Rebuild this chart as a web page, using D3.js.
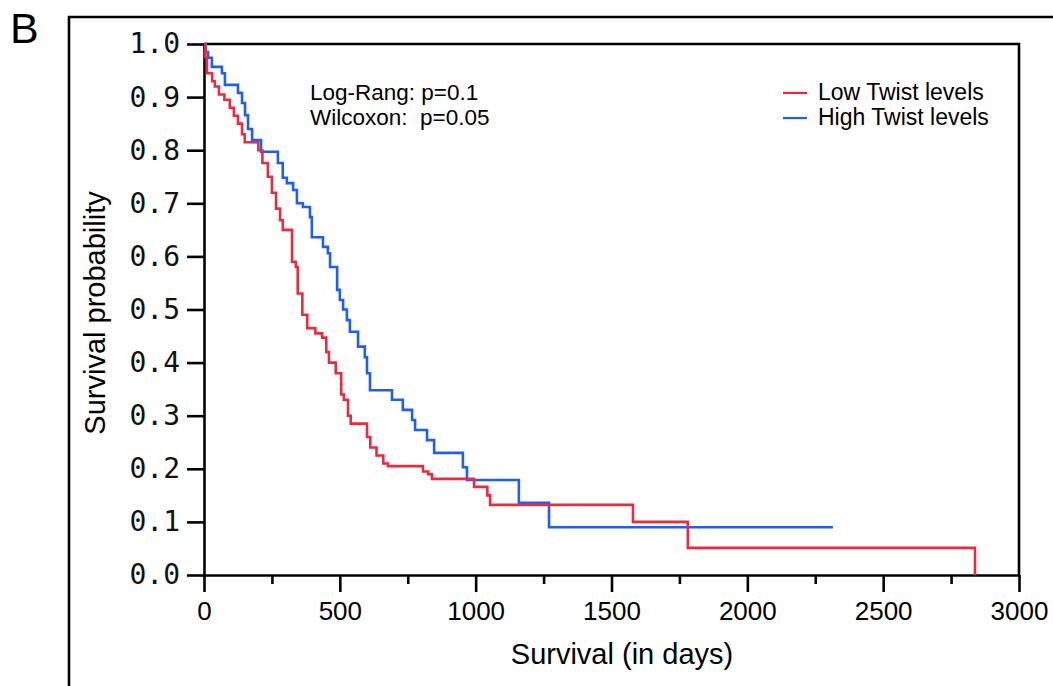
<!DOCTYPE html>
<html>
<head>
<meta charset="utf-8">
<script src="https://cdn.jsdelivr.net/npm/d3@7"></script>
<style>
  body { margin: 0; background: #fff; }
  svg { display: block; }
</style>
</head>
<body>
<div id="km_plot"></div>
<script>
// Kaplan-Meier steps (time in days, survival after that time)
const lowTimes = [0, 5, 11, 30, 40, 55, 75, 95, 110, 125, 140, 150, 200, 215, 235, 250, 265, 280, 290, 324,
  338, 345, 362, 380, 410, 435, 450, 460, 485, 505, 515, 530, 540, 600, 612, 635, 660, 677, 806, 825,
  839, 994, 1043, 1053, 1579, 1781, 2838];
const lowSurv = [1.0, 0.975, 0.945, 0.93, 0.92, 0.905, 0.895, 0.88, 0.865, 0.85, 0.83, 0.815, 0.8, 0.776, 0.75, 0.72, 0.69, 0.668, 0.65, 0.59,
  0.58, 0.53, 0.49, 0.465, 0.455, 0.447, 0.42, 0.4, 0.38, 0.34, 0.33, 0.3, 0.285, 0.26, 0.24, 0.225, 0.21, 0.205, 0.195, 0.19,
  0.181, 0.166, 0.15, 0.132, 0.1, 0.051, 0.0];

const highTimes = [0, 6, 15, 29, 66, 77, 125, 140, 151, 162, 177, 210, 272, 290, 305, 328, 342, 364, 390, 397,
  438, 456, 464, 490, 500, 512, 526, 537, 567, 592, 600, 611, 692, 732, 766, 777, 821, 847, 953, 968,
  1159, 1270, 2315];
const highSurv = [1.0, 0.985, 0.974, 0.957, 0.945, 0.923, 0.908, 0.889, 0.866, 0.84, 0.819, 0.797, 0.776, 0.748, 0.738, 0.725, 0.7, 0.693, 0.674, 0.636,
  0.618, 0.606, 0.58, 0.537, 0.518, 0.5, 0.48, 0.458, 0.43, 0.41, 0.38, 0.348, 0.33, 0.311, 0.292, 0.273, 0.254, 0.23, 0.203, 0.179,
  0.136, 0.09, 0.09];

const seriesNames = ["Low Twist levels", "High Twist levels"];
const seriesColors = ["#ec2a3e", "#1f5ef0"];
const statLines = ["Log-Rang: p=0.1", "Wilcoxon:  p=0.05"];

const xMajor = [0, 500, 1000, 1500, 2000, 2500, 3000];
const xMinor = [250, 750, 1250, 1750, 2250, 2750];
const yTicks = [0, 0.1, 0.2, 0.3, 0.4, 0.5, 0.6, 0.7, 0.8, 0.9, 1.0];

const W = 1053, H = 686;
const sans = "'Liberation Sans', Arial, sans-serif";

const svg = d3.select("#km_plot").append("svg")
  .attr("width", W)
  .attr("height", H)
  .style("background", "#fff");

const x = d3.scaleLinear().domain([0, 3000]).range([204, 1019]);
const y = d3.scaleLinear().domain([0, 1]).range([575, 44]);

// outer panel frame (runs off the right and bottom edge)
svg.append("path")
  .attr("d", "M69," + (H + 5) + "V17H" + (W + 5))
  .attr("fill", "none")
  .attr("stroke", "#000")
  .attr("stroke-width", 2.6);

// panel letter
svg.append("text")
  .attr("x", 10)
  .attr("y", 43)
  .style("font-family", sans)
  .style("font-size", "43px")
  .text("B");

// top + right of plot box
svg.append("path")
  .attr("d", "M" + x(0) + "," + y(1) + "H" + x(3000) + "V" + y(0))
  .attr("fill", "none")
  .attr("stroke", "#000")
  .attr("stroke-width", 2.6);

// y axis
const yAxis = svg.append("g")
  .attr("transform", "translate(" + x(0) + ",0)")
  .call(d3.axisLeft(y).tickValues(yTicks).tickSize(17).tickSizeOuter(0).tickPadding(7).tickFormat(d3.format(".1f")));
yAxis.selectAll("path, line").attr("stroke", "#000").attr("stroke-width", 2.6);
yAxis.selectAll("text")
  .style("font-family", "'DejaVu Sans Mono', monospace")
  .style("font-size", "28px")
  .attr("fill", "#111");

// x axis, minor ticks first
const xMinorAxis = svg.append("g")
  .attr("transform", "translate(0," + y(0) + ")")
  .call(d3.axisBottom(x).tickValues(xMinor).tickSize(9).tickSizeOuter(0).tickFormat(""));
xMinorAxis.select(".domain").remove();
xMinorAxis.selectAll("line").attr("stroke", "#000").attr("stroke-width", 2.6);

const xAxis = svg.append("g")
  .attr("transform", "translate(0," + y(0) + ")")
  .call(d3.axisBottom(x).tickValues(xMajor).tickSize(17).tickSizeOuter(0).tickPadding(10).tickFormat(d3.format("d")));
xAxis.selectAll("path, line").attr("stroke", "#000").attr("stroke-width", 2.6);
xAxis.selectAll("text")
  .style("font-family", sans)
  .style("font-size", "26px")
  .attr("fill", "#000");

// axis titles
svg.append("text")
  .attr("x", 622)
  .attr("y", 664)
  .attr("text-anchor", "middle")
  .style("font-family", sans)
  .style("font-size", "29px")
  .text("Survival (in days)");

svg.append("text")
  .attr("transform", "translate(105,313) rotate(-90)")
  .attr("text-anchor", "middle")
  .style("font-family", sans)
  .style("font-size", "29px")
  .text("Survival probability");

// survival curves
const stepLine = d3.line()
  .x((d) => x(d[0]))
  .y((d) => y(d[1]))
  .curve(d3.curveStepAfter);

const curves = [
  d3.zip(lowTimes, lowSurv),
  d3.zip(highTimes, highSurv),
];

// draw blue under red like the figure
[1, 0].forEach((i) => {
  svg.append("path")
    .datum(curves[i])
    .attr("fill", "none")
    .attr("stroke", seriesColors[i])
    .attr("stroke-width", 2.6)
    .attr("d", stepLine);
});

// test statistics
statLines.forEach((s, i) => {
  svg.append("text")
    .attr("x", 310)
    .attr("y", 100 + i * 25)
    .style("font-family", sans)
    .style("font-size", "22.5px")
    .style("white-space", "pre")
    .text(s);
});

// legend
seriesNames.forEach((name, i) => {
  const ly = 93 + i * 25;
  svg.append("line")
    .attr("x1", 783).attr("x2", 807)
    .attr("y1", ly).attr("y2", ly)
    .attr("stroke", seriesColors[i])
    .attr("stroke-width", 2.2);
  svg.append("text")
    .attr("x", 818)
    .attr("y", ly + 7)
    .style("font-family", sans)
    .style("font-size", "23px")
    .text(name);
});
</script>
</body>
</html>
